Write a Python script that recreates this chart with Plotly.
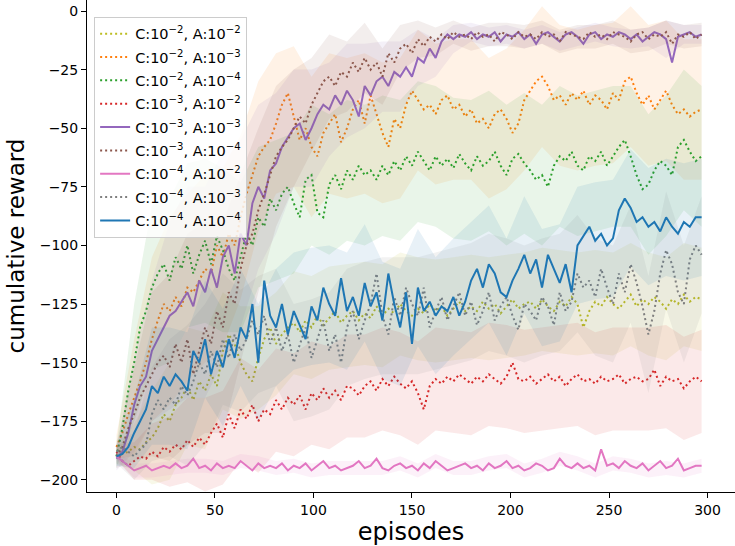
import plotly.graph_objects as go

# ---------------- data ----------------
episodes = list(range(0, 300, 3))          # 100 points
band_episodes = list(range(0, 300, 9))     # 34 points (every third mean sample)

labels = [
    "C:10<sup>−2</sup>, A:10<sup>−2</sup>",
    "C:10<sup>−2</sup>, A:10<sup>−3</sup>",
    "C:10<sup>−2</sup>, A:10<sup>−4</sup>",
    "C:10<sup>−3</sup>, A:10<sup>−2</sup>",
    "C:10<sup>−3</sup>, A:10<sup>−3</sup>",
    "C:10<sup>−3</sup>, A:10<sup>−4</sup>",
    "C:10<sup>−4</sup>, A:10<sup>−2</sup>",
    "C:10<sup>−4</sup>, A:10<sup>−3</sup>",
    "C:10<sup>−4</sup>, A:10<sup>−4</sup>",
]

c2_a2 = [
    -190, -189, -188, -186, -187, -184, -182, -178, -172, -175,
    -168, -165, -160, -166, -158, -162, -155, -160, -145, -138,
    -142, -150, -155, -158, -148, -140, -135, -142, -138, -135,
    -133, -137, -132, -135, -130, -134, -131, -128, -133, -130,
    -128, -132, -129, -131, -126, -130, -127, -129, -125, -128,
    -130, -127, -129, -125, -128, -126, -130, -127, -124, -128,
    -126, -128, -124, -127, -125, -129, -126, -123, -127, -125,
    -124, -127, -123, -126, -128, -124, -126, -122, -125, -135,
    -128, -124, -126, -122, -125, -127, -124, -121, -126, -123,
    -125, -122, -124, -127, -123, -125, -121, -124, -122, -123,
]
c2_a3 = [
    -186, -180, -172, -165, -158, -150, -140, -132, -125, -128,
    -122, -126, -118, -120, -115, -110, -112, -100, -105, -95,
    -100, -88, -78, -70, -62, -58, -55, -48, -40, -35,
    -45, -55, -50, -58, -62, -52, -48, -44, -56, -50,
    -42, -38, -48, -36, -44, -52, -58, -46, -50, -40,
    -34, -38, -42, -40, -44, -38, -36, -42, -40, -45,
    -42, -48, -46, -50, -44, -42, -46, -52, -48, -38,
    -34, -30, -28, -32, -38, -36, -40, -35, -38, -34,
    -40, -36, -38, -42, -35, -38, -30, -28, -35, -40,
    -36, -42, -38, -34, -40, -44, -42, -45, -43, -42,
]
c2_a4 = [
    -190, -178, -162, -150, -135, -128, -118, -112, -108, -115,
    -105, -110, -100, -112, -104, -98, -108, -96, -102, -110,
    -115, -105, -95, -100, -88, -92, -80, -85, -78, -75,
    -82, -88, -72, -70, -86, -88, -74, -70, -76, -68,
    -72, -66, -70, -68, -72, -66, -70, -64, -68, -62,
    -66, -60, -64, -68, -62, -66, -63, -67, -61, -65,
    -68, -62, -66, -64, -60, -66, -70, -63, -61, -65,
    -68, -72, -70, -75, -66, -62, -64, -60, -66, -68,
    -62, -64, -60, -66, -62, -58, -55, -62, -70, -76,
    -74, -68, -64, -66, -70, -58, -55, -60, -64, -62,
]
c3_a2 = [
    -188, -192, -194, -192, -190, -191, -188, -190, -186, -188,
    -185, -187, -183, -186, -182, -185, -180, -176, -182, -172,
    -178, -170, -174, -168, -175, -170, -172, -166, -170, -165,
    -168, -164, -170, -163, -166, -161, -165, -162, -166, -160,
    -161, -164, -160, -158, -162, -157, -160, -156, -159, -161,
    -158, -163, -170, -160, -157, -159, -156, -158, -155, -157,
    -159, -156, -158, -155, -157, -159, -156, -150, -157, -158,
    -156, -159, -157, -155, -158, -156, -160, -157, -155, -158,
    -157, -159, -156, -158, -157, -155, -159, -157, -156, -158,
    -157, -153, -160, -156, -158, -157, -161, -158, -156, -158,
]
c3_a3 = [
    -191, -188, -180, -168, -160, -156, -145, -140, -135, -130,
    -128, -124, -120, -126, -115, -120, -110, -118, -105, -100,
    -112, -95, -100, -82, -75, -80, -68, -65, -58, -54,
    -50, -48, -55, -50, -44, -40, -42, -36, -40, -34,
    -38, -45, -32, -36, -30, -28, -32, -26, -28, -24,
    -28, -20, -22, -16, -20, -13, -10, -12, -10, -11,
    -9, -12, -10, -11, -9, -13, -10, -11, -9, -12,
    -10, -14, -10, -9, -11, -13, -10, -9, -11, -14,
    -10, -9, -12, -10, -11, -9, -10, -12, -10, -13,
    -11, -9, -10, -12, -22, -11, -10, -9, -11, -10,
]
c3_a4 = [
    -190, -186, -178, -172, -165, -160, -155, -150, -147, -152,
    -142, -150, -140, -155, -145, -135, -142, -128, -135, -120,
    -125, -110, -100, -95, -85, -78, -70, -62, -58, -55,
    -50, -45, -48, -40, -35, -30, -28, -32, -26, -28,
    -22, -26, -20, -25, -22, -28, -18, -22, -16, -14,
    -18, -12, -15, -11, -13, -10, -12, -9, -11, -10,
    -12, -9, -11, -10, -13, -9, -10, -12, -9, -11,
    -10, -12, -9, -11, -10, -13, -9, -10, -11, -12,
    -9, -11, -10, -12, -9, -10, -11, -13, -10, -9,
    -12, -10, -11, -9, -14, -10, -11, -9, -12, -10,
]
c4_a2 = [
    -190, -192, -194, -196, -195, -194, -196, -195, -194, -195,
    -193, -195, -194, -191, -195, -194, -196, -193, -195, -194,
    -195, -192, -194, -196, -193, -195, -194, -195, -193, -196,
    -194, -195, -193, -196, -194, -192, -195, -194, -196, -195,
    -194, -192, -195, -194, -191, -195, -196, -194, -193, -195,
    -194, -196, -193, -195, -192, -194, -196, -195, -194, -193,
    -195, -194, -196, -193, -195, -194, -192, -195, -194, -196,
    -195, -193, -194, -196, -195, -191, -194, -195, -193, -195,
    -194, -196, -187, -194, -193, -195, -192, -194, -195, -193,
    -196, -194, -192, -195, -194, -191, -196, -195, -194, -194,
]
c4_a3 = [
    -188, -186, -188, -190, -187, -185, -172, -166, -170, -165,
    -168, -160, -164, -158, -150, -155, -145, -152, -140, -148,
    -138, -145, -140, -132, -138, -130, -142, -135, -145, -138,
    -150, -142, -135, -148, -140, -132, -145, -138, -150, -135,
    -128, -140, -132, -125, -112, -130, -138, -122, -130, -118,
    -125, -130, -118, -135, -128, -122, -132, -126, -120, -130,
    -124, -134, -128, -120, -132, -126, -122, -130, -136, -125,
    -128, -132, -122, -126, -134, -120, -128, -124, -112, -118,
    -115, -122, -110, -118, -125, -112, -120, -108, -116, -126,
    -138, -128, -112, -102, -108, -120, -125, -106, -100, -104,
]
c4_a4 = [
    -190, -189, -186, -180, -175, -170, -160, -163, -156, -160,
    -155, -158, -162, -145, -150, -140, -155, -145, -152, -140,
    -148, -135, -140, -125, -150, -115, -130, -135, -125, -138,
    -128, -134, -140, -126, -132, -118, -125, -130, -114, -128,
    -122, -130, -116, -126, -120, -132, -112, -125, -135, -120,
    -142, -118, -128, -124, -130, -126, -128, -122, -130, -124,
    -115, -110, -118, -108, -112, -120, -122, -115, -110, -104,
    -112, -106, -118, -104, -110, -116, -108, -120, -100, -96,
    -92, -98, -95, -100, -97, -85, -80, -84, -90, -88,
    -92, -90, -94, -88, -92, -95, -90, -92, -88, -88,
]

# standard-deviation half widths of the shaded bands, at band_episodes
std_c2_a2 = [3, 10, 20, 25, 25, 25, 25, 24, 22, 22, 22, 22, 22, 22, 22, 22, 22,
             22, 22, 22, 22, 22, 22, 22, 22, 22, 22, 22, 22, 22, 22, 22, 22, 22]
std_c2_a3 = [5, 25, 35, 40, 40, 40, 38, 35, 32, 30, 30, 30, 30, 30, 30, 30, 30,
             30, 30, 30, 30, 30, 30, 30, 30, 30, 30, 30, 30, 30, 30, 30, 30, 30]
std_c2_a4 = [5, 25, 35, 35, 35, 35, 35, 32, 30, 30, 30, 30, 30, 30, 30, 30, 30,
             30, 30, 30, 30, 30, 30, 30, 30, 30, 30, 30, 30, 30, 30, 30, 30, 30]
std_c3_a2 = [3, 8, 12, 15, 18, 20, 20, 22, 22, 22, 22, 22, 22, 22, 22, 22, 22,
             22, 22, 22, 22, 22, 22, 22, 22, 22, 22, 22, 22, 22, 22, 22, 22, 22]
std_c3_a3 = [5, 20, 30, 40, 45, 45, 45, 40, 35, 30, 25, 25, 20, 20, 18, 15, 15,
             12, 8, 6, 4, 4, 4, 4, 4, 4, 4, 4, 4, 4, 4, 8, 4, 4]
std_c3_a4 = [5, 20, 35, 40, 45, 45, 45, 40, 35, 30, 25, 20, 18, 15, 15, 12, 10,
             8, 6, 5, 5, 5, 5, 5, 5, 5, 5, 5, 5, 5, 5, 5, 5, 5]
std_c4_a2 = [2, 3, 3, 3, 3, 3, 3, 3, 3, 3, 3, 3, 3, 3, 3, 3, 3,
             3, 3, 3, 3, 3, 3, 3, 3, 3, 3, 3, 3, 3, 3, 3, 3, 3]
std_c4_a3 = [5, 10, 20, 25, 30, 30, 28, 26, 25, 25, 25, 25, 25, 25, 25, 25, 25,
             25, 25, 25, 25, 25, 25, 25, 25, 25, 25, 25, 25, 25, 25, 25, 25, 25]
std_c4_a4 = [4, 15, 25, 25, 25, 25, 25, 25, 25, 25, 25, 25, 25, 25, 25, 25, 25,
             25, 25, 25, 25, 25, 25, 25, 25, 25, 25, 25, 25, 25, 25, 25, 25, 25]

means = [c2_a2, c2_a3, c2_a4, c3_a2, c3_a3, c3_a4, c4_a2, c4_a3, c4_a4]
stds = [std_c2_a2, std_c2_a3, std_c2_a4, std_c3_a2, std_c3_a3, std_c3_a4,
        std_c4_a2, std_c4_a3, std_c4_a4]

colors = ["#bcbd22", "#ff7f0e", "#2ca02c", "#d62728", "#9467bd",
          "#8c564b", "#e377c2", "#7f7f7f", "#1f77b4"]
solid = [False, False, False, False, True, False, True, False, True]


def rgba(hex_color, a):
    h = hex_color.lstrip("#")
    r, g, b = int(h[0:2], 16), int(h[2:4], 16), int(h[4:6], 16)
    return f"rgba({r},{g},{b},{a})"


fig = go.Figure()
for i, (lab, m, s, col, sol) in enumerate(zip(labels, means, stds, colors, solid)):
    grp = f"g{i}"
    fig.add_trace(go.Scatter(
        x=episodes, y=m, mode="lines", name=lab, legendgroup=grp,
        line=dict(color=col, width=2, dash="solid" if sol else "2px,3px"),
    ))
    mb = m[::3]
    upper = [a + b for a, b in zip(mb, s)]
    lower = [a - b for a, b in zip(mb, s)]
    fig.add_trace(go.Scatter(
        x=band_episodes + band_episodes[::-1],
        y=upper + lower[::-1],
        fill="toself", fillcolor=rgba(col, 0.1), legendgroup=grp,
        line=dict(width=0), mode="lines",
        showlegend=False, hoverinfo="skip",
    ))

font = "DejaVu Sans"
fig.update_layout(
    width=735, height=546,
    margin=dict(l=87, r=0, t=0, b=54),
    paper_bgcolor="white", plot_bgcolor="white",
    font=dict(family=font, size=14, color="black"),
    showlegend=True,
    legend=dict(
        x=0.011, y=0.966, xanchor="left", yanchor="top",
        bgcolor="rgba(255,255,255,0.8)", bordercolor="#cccccc", borderwidth=1,
        font=dict(family=font, size=14.5, color="black"),
        traceorder="grouped", tracegroupgap=1.5,
    ),
    xaxis=dict(
        range=[-14.95, 313.95], showgrid=False, zeroline=False,
        showline=True, linecolor="black", linewidth=1,
        ticks="outside", ticklen=5, tickwidth=1, tickcolor="black",
        tickvals=[0, 50, 100, 150, 200, 250, 300],
        tickfont=dict(family=font, size=14),
        title=dict(text="episodes", font=dict(family=font, size=24), standoff=6),
    ),
    yaxis=dict(
        range=[-205.2, 4.7], showgrid=False, zeroline=False,
        showline=True, linecolor="black", linewidth=1,
        ticks="outside", ticklen=5, tickwidth=1, tickcolor="black",
        tickvals=[0, -25, -50, -75, -100, -125, -150, -175, -200],
        tickfont=dict(family=font, size=14),
        title=dict(text="cumulative reward", font=dict(family=font, size=23), standoff=8),
    ),
)

fig.write_html("out.html")
